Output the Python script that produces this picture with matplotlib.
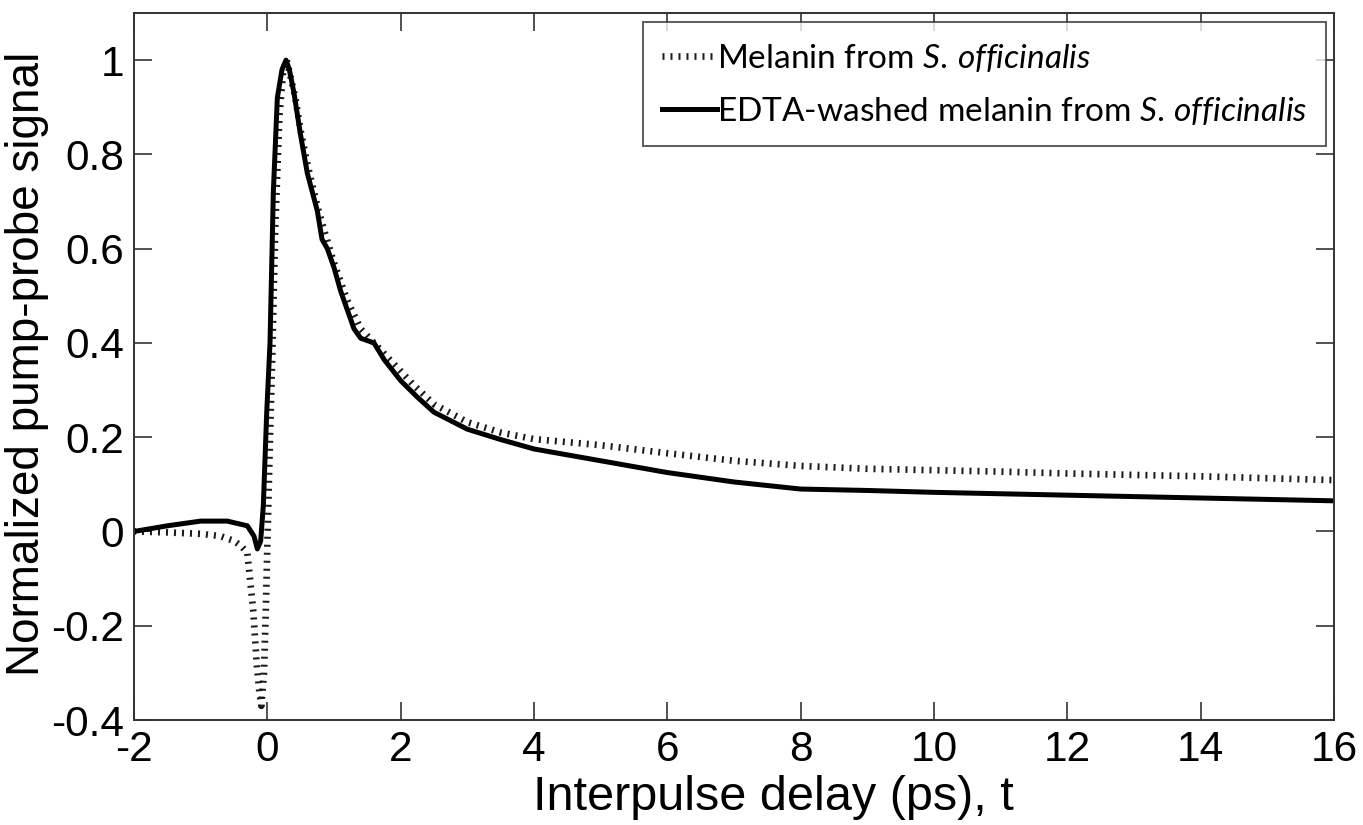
import matplotlib
matplotlib.use("Agg")
import matplotlib.pyplot as plt
from matplotlib.ticker import FixedLocator, FixedFormatter

plt.rcParams['font.family'] = ['Liberation Sans', 'DejaVu Sans']
plt.rcParams['mathtext.fontset'] = 'custom'
plt.rcParams['mathtext.rm'] = 'Lato'
plt.rcParams['mathtext.it'] = 'Lato:italic'

# ---- data ----
melanin_x = [-2.0, -1.5, -1.0, -0.7, -0.5, -0.4, -0.3, -0.26, -0.21, -0.16, -0.12, -0.09,
             -0.05, -0.02, 0.0, 0.04, 0.07, 0.12, 0.18, 0.24, 0.29, 0.34, 0.42, 0.5, 0.6,
             0.75, 0.85, 1.0, 1.2, 1.4, 1.6, 1.8, 2.0, 2.2, 2.5, 3.0, 3.5, 4.0, 5.0, 6.0,
             7.0, 8.0, 9.0, 10.0, 11.0, 12.0, 13.0, 14.0, 15.0, 16.0]
melanin_y = [0.0, -0.002, -0.005, -0.01, -0.02, -0.03, -0.045, -0.10, -0.17, -0.28, -0.34, -0.37,
             -0.30, -0.15, -0.03, 0.2, 0.35, 0.65, 0.88, 0.98, 1.0, 0.97, 0.92, 0.85, 0.78,
             0.69, 0.64, 0.57, 0.49, 0.43, 0.40, 0.37, 0.34, 0.31, 0.27, 0.232, 0.21, 0.196, 0.183, 0.166,
             0.15, 0.139, 0.133, 0.13, 0.127, 0.123, 0.12, 0.117, 0.113, 0.109]

edta_x = [-2.0, -1.5, -1.0, -0.6, -0.3, -0.2, -0.15, -0.1, -0.06, -0.01, 0.04, 0.09, 0.15,
          0.22, 0.28, 0.33, 0.4, 0.5, 0.6, 0.75, 0.82, 0.9, 1.0, 1.1, 1.2, 1.3, 1.4, 1.6,
          1.75, 2.0, 2.25, 2.5, 3.0, 3.5, 4.0, 5.0, 6.0, 7.0, 8.0, 9.0, 10.0, 11.0, 12.0,
          13.0, 14.0, 15.0, 16.0]
edta_y = [0.0, 0.012, 0.022, 0.022, 0.012, -0.01, -0.037, -0.02, 0.055, 0.25, 0.40, 0.72, 0.92,
          0.98, 1.0, 0.98, 0.93, 0.84, 0.76, 0.68, 0.62, 0.60, 0.56, 0.51, 0.47, 0.43, 0.41, 0.40,
          0.365, 0.32, 0.285, 0.253, 0.217, 0.195, 0.175, 0.15, 0.125, 0.105, 0.09, 0.087, 0.083, 0.08, 0.077,
          0.074, 0.071, 0.068, 0.065]

x_ticks = [-2, 0, 2, 4, 6, 8, 10, 12, 14, 16]
x_ticklabels = ['-2', '0', '2', '4', '6', '8', '10', '12', '14', '16']
y_ticks = [-0.4, -0.2, 0, 0.2, 0.4, 0.6, 0.8, 1.0]
y_ticklabels = ['-0.4', '-0.2', '0', '0.2', '0.4', '0.6', '0.8', '1']

label_melanin = r'Melanin from $\mathit{S.\,officinalis}$'
label_edta = r'EDTA-washed melanin from $\mathit{S.\,officinalis}$'
x_label = 'Interpulse delay (ps), t'
y_label = 'Normalized pump-probe signal'

# ---- figure ----
fig = plt.figure(figsize=(13.63, 8.25), dpi=100)
ax = fig.add_axes([134/1363, 1-720/825, 1200/1363, 707/825])

ax.plot(melanin_x, melanin_y, color='#1a1a1a', lw=4.8, linestyle=(0, (0.3, 0.9)),
        dash_capstyle='butt', label=label_melanin)
ax.plot(edta_x, edta_y, color='black', lw=3.6, solid_joinstyle='round',
        label=label_edta)

ax.set_xlim(-2, 16)
ax.set_ylim(-0.4, 1.1)
ax.xaxis.set_major_locator(FixedLocator(x_ticks))
ax.xaxis.set_major_formatter(FixedFormatter(x_ticklabels))
ax.yaxis.set_major_locator(FixedLocator(y_ticks))
ax.yaxis.set_major_formatter(FixedFormatter(y_ticklabels))
ax.tick_params(direction='in', length=13, width=1.2, color='#333333',
               top=True, right=True, labelsize=30.5, pad=7)
for s in ax.spines.values():
    s.set_linewidth(1.4)
    s.set_color('#333333')

fig.text(27/1363, 1-364/825, y_label, fontsize=33, rotation=90,
         ha='center', va='center')
fig.text(533/1363, 1-797/825, x_label, fontsize=35, ha='left', va='center')

leg = ax.legend(loc='upper left', bbox_to_anchor=(0.424, 0.809, 0.569, 0.178),
                mode='expand', borderaxespad=0, fancybox=False, frameon=True,
                handlelength=1.65, handletextpad=0.0, borderpad=0.58, labelspacing=0.63,
                prop={'family': 'Lato', 'size': 24})
leg.get_frame().set_edgecolor('#333333')
leg.get_frame().set_linewidth(1.4)

fig.savefig('out.png', dpi=100)
